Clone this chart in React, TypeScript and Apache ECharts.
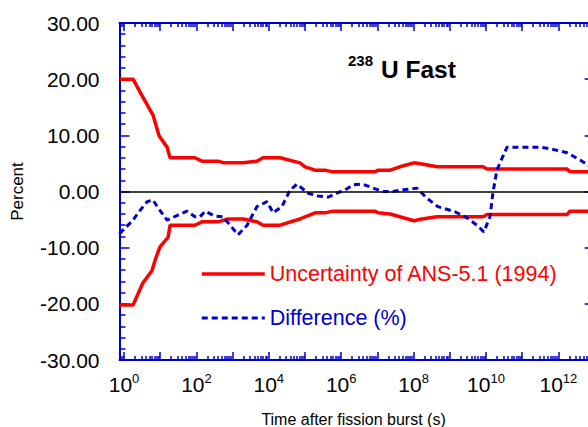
import React, { useEffect, useRef } from "react";
import * as echarts from "echarts";

const FONT = "'Liberation Sans', Arial, Helvetica, sans-serif";
const AXIS_BLUE = "#0000CC";
const RED = "#FF0000";

// x axis is log10(time in s)
const xMinExp = -0.125;
const xMaxExp = 13;
const decadeExps = [0, 1, 2, 3, 4, 5, 6, 7, 8, 9, 10, 11, 12, 13];
const labelExps = [0, 2, 4, 6, 8, 10, 12];
const minorMultipliers = [2, 3, 4, 5, 6, 7, 8, 9];
const yMin = -30;
const yMax = 30;
const yStep = 10;

const legendUnc = "Uncertainty of ANS-5.1 (1994)";
const legendDiff = "Difference (%)";

// Upper uncertainty band (+)
const upperExp = [-0.125, 0.25, 0.52, 0.66, 0.8, 0.97, 1.19, 1.27, 1.96, 2.15, 2.6, 2.76, 3.29, 3.67, 3.84, 4.31, 4.86, 5.0, 5.28, 5.55, 5.77, 6.93, 7.02, 7.35, 7.62, 8.01, 8.23, 8.65, 9.92, 10.03, 12.24, 12.32, 13.0];
const upperPct = [20.0, 20.0, 16.8, 15.2, 13.6, 9.9, 7.9, 6.0, 6.0, 5.4, 5.4, 5.1, 5.1, 5.4, 6.0, 6.0, 5.1, 4.4, 3.8, 3.8, 3.5, 3.5, 3.8, 3.8, 4.4, 5.1, 4.9, 4.4, 4.4, 4.0, 4.0, 3.5, 3.5];

// Lower uncertainty band (-)
const lowerExp = [-0.125, 0.25, 0.52, 0.77, 0.86, 0.99, 1.22, 1.27, 1.96, 2.15, 2.6, 2.87, 3.29, 3.67, 3.84, 4.31, 4.86, 5.0, 5.28, 5.55, 5.77, 6.93, 7.02, 7.35, 7.62, 8.01, 8.23, 8.65, 9.92, 10.03, 12.24, 12.32, 13.0];
const lowerPct = [-20.2, -20.2, -16.3, -14.1, -12.2, -9.9, -8.1, -6.0, -6.0, -5.4, -5.4, -4.9, -4.9, -5.4, -6.0, -6.0, -4.9, -4.5, -3.8, -3.8, -3.5, -3.5, -3.8, -4.0, -4.5, -5.2, -4.9, -4.5, -4.5, -4.1, -4.1, -3.5, -3.5];

// Difference (%)
const diffExp = [-0.125, 0.25, 0.39, 0.64, 0.8, 0.94, 1.19, 1.49, 1.74, 1.96, 2.1, 2.24, 2.51, 2.73, 2.93, 3.15, 3.4, 3.67, 3.95, 4.12, 4.36, 4.59, 4.78, 5.08, 5.36, 5.64, 5.88, 6.11, 6.33, 6.6, 6.88, 7.15, 7.43, 7.71, 8.09, 8.37, 8.67, 9.14, 9.48, 9.75, 9.94, 10.11, 10.19, 10.3, 10.58, 11.49, 11.77, 12.24, 12.6, 12.82, 13.0];
const diffPct = [-7.5, -5.1, -3.8, -1.8, -1.5, -2.9, -5.1, -4.2, -3.5, -4.5, -4.5, -3.5, -4.4, -4.5, -6.0, -7.7, -6.0, -2.7, -1.8, -3.8, -2.7, 0.3, 1.3, -0.3, -0.8, -1.0, -0.3, 0.3, 1.2, 1.3, 0.6, 0.0, 0.0, 0.3, 0.6, -1.2, -2.7, -3.6, -4.7, -6.0, -7.2, -4.5, -0.3, 3.8, 7.9, 7.9, 7.6, 6.9, 5.6, 4.7, 3.8];

const minorExps: number[] = [];
for (let n = -1; n <= 12; n++) {
  for (const k of minorMultipliers) {
    const e = n + Math.log10(k);
    if (e > xMinExp && e < xMaxExp) minorExps.push(Number(e.toFixed(4)));
  }
}

const zip = (xs: number[], ys: number[]) => xs.map((x, i) => [x, ys[i]]);

export default function App() {
  const ref = useRef<HTMLDivElement>(null);
  useEffect(() => {
    if (!ref.current) return;
    const chart = echarts.init(ref.current, undefined, { renderer: "svg" });

    const xBase = (position: string, tickVals: number[], tickLen: number, showLine: boolean) => ({
      type: "value",
      position,
      min: xMinExp,
      max: xMaxExp,
      splitLine: { show: false },
      axisLine: { show: showLine, onZero: false, lineStyle: { color: AXIS_BLUE, width: 2 } },
      axisTick: { show: true, inside: true, length: tickLen, customValues: tickVals, lineStyle: { color: AXIS_BLUE, width: 1.5 } },
      axisLabel: { show: false },
    });

    const yBase = (position: string, showLabel: boolean) => ({
      type: "value",
      position,
      min: yMin,
      max: yMax,
      interval: yStep,
      splitLine: { show: false },
      axisLine: { show: true, onZero: false, lineStyle: { color: AXIS_BLUE, width: 2 } },
      axisTick: { show: true, inside: true, length: 10, lineStyle: { color: AXIS_BLUE, width: 1.5 } },
      minorTick: { show: true, splitNumber: 5, length: 6, lineStyle: { color: AXIS_BLUE, width: 1.5 } },
      axisLabel: {
        show: showLabel,
        margin: 20,
        color: "#000",
        fontSize: 21,
        fontFamily: FONT,
        formatter: (v: number) => v.toFixed(2),
      },
    });

    const mainX: any = xBase("bottom", decadeExps, 8, true);
    mainX.axisLabel = {
      show: true,
      customValues: labelExps,
      margin: 12,
      formatter: (v: number) => `{b|10}{s|${Math.round(v)}}`,
      rich: {
        b: { fontSize: 21, fontFamily: FONT, color: "#000", lineHeight: 24 },
        s: { fontSize: 13, fontFamily: FONT, color: "#000", verticalAlign: "top", lineHeight: 14 },
      },
    };
    mainX.name = "Time after fission burst (s)";
    mainX.nameLocation = "middle";
    mainX.nameGap = 51;
    mainX.nameTextStyle = { fontSize: 16, fontFamily: FONT, color: "#000", padding: [0, 7, 0, 0] };

    const leftY: any = yBase("left", true);
    leftY.name = "Percent";
    leftY.nameLocation = "middle";
    leftY.nameRotate = 90;
    leftY.nameGap = 94;
    leftY.nameTextStyle = { fontSize: 17, fontFamily: FONT, color: "#000" };

    chart.setOption({
      animation: false,
      backgroundColor: "#fff",
      grid: { left: 119.5, right: -6.6, top: 23, bottom: 67, containLabel: false, outerBoundsMode: "none" },
      xAxis: [
        mainX,
        xBase("top", decadeExps, 8, true),
        xBase("bottom", minorExps, 4, false),
        xBase("top", minorExps, 4, false),
      ],
      yAxis: [leftY, yBase("right", false)],
      legend: {
        orient: "vertical",
        left: 200,
        top: 263,
        padding: 0,
        itemWidth: 63,
        itemHeight: 22,
        itemGap: 22,
        itemStyle: { opacity: 0 },
        textStyle: { fontSize: 21.5, fontFamily: FONT, lineHeight: 22 },
        data: [
          { name: legendUnc, textStyle: { color: RED }, lineStyle: { width: 3.5, color: RED } },
          { name: legendDiff, textStyle: { color: AXIS_BLUE }, lineStyle: { width: 3, color: AXIS_BLUE, type: [6, 4] } },
        ],
      },
      graphic: [
        { type: "text", x: 348, y: 60, style: { text: "238", fontSize: 15, fontWeight: "bold", fontFamily: FONT, fill: "#000", verticalAlign: "middle" } },
        { type: "text", x: 381, y: 69.5, style: { text: "U Fast", fontSize: 24.5, fontWeight: "bold", fontFamily: FONT, fill: "#000", verticalAlign: "middle" } },
      ],
      series: [
        {
          name: legendUnc,
          type: "line",
          xAxisIndex: 0,
          yAxisIndex: 0,
          data: zip(upperExp, upperPct),
          symbol: "none",
          lineStyle: { color: RED, width: 3.5 },
          itemStyle: { color: RED },
          markLine: {
            silent: true,
            symbol: ["none", "none"],
            label: { show: false },
            lineStyle: { color: "#000", width: 1.5, type: "solid" },
            data: [{ yAxis: 0 }],
          },
        },
        {
          name: legendUnc,
          type: "line",
          xAxisIndex: 0,
          yAxisIndex: 0,
          data: zip(lowerExp, lowerPct),
          symbol: "none",
          lineStyle: { color: RED, width: 3.5 },
          itemStyle: { color: RED },
        },
        {
          name: legendDiff,
          type: "line",
          xAxisIndex: 0,
          yAxisIndex: 0,
          data: zip(diffExp, diffPct),
          symbol: "none",
          lineStyle: { color: AXIS_BLUE, width: 3, type: [6, 4] },
          itemStyle: { color: AXIS_BLUE },
        },
      ],
    });
    return () => chart.dispose();
  }, []);
  return (
    <div
      ref={ref}
      style={{ position: "fixed", left: 0, top: 0, width: 588, height: 427, background: "#fff" }}
    />
  );
}
